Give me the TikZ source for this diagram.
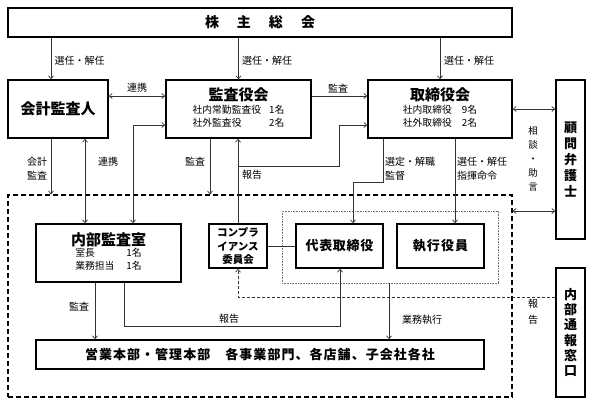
\documentclass[tikz,border=0pt]{standalone}
\usepackage{fontspec}
\setmainfont{Noto Sans CJK JP}
\usetikzlibrary{arrows.meta,calc}
\begin{document}
\begin{tikzpicture}[x=1pt,y=-1pt,
  box/.style={draw=black,line width=1.4pt,inner sep=0pt,align=center,fill=white},
  conn/.style={draw=black!80,line width=0.7pt},
  arr/.style={conn,-{Straight Barb[length=3pt,width=5pt]}},
  darr/.style={conn,{Straight Barb[length=3pt,width=5pt]}-{Straight Barb[length=3pt,width=5pt]}},
  lbl/.style={font=\fontsize{10}{12}\selectfont,inner sep=0pt}]
\useasboundingbox (0,0) rectangle (593,407);
% containers
\node[draw=black,line width=1.2pt,dash pattern=on 5pt off 3pt,inner sep=0pt,minimum width=504pt,minimum height=202pt] (outer) at (260,296) {};
\node[draw=black!55,densely dotted,line width=0.6pt,inner sep=0pt,minimum width=216pt,minimum height=72pt] (exec) at (390,247) {};
% boxes
\node[box,minimum width=504pt,minimum height=29pt,font=\bfseries\fontsize{14}{16}\selectfont] (sh) at (260,22.5) {株\hspace{18pt}主\hspace{18pt}総\hspace{18pt}会};
\node[box,minimum width=100pt,minimum height=58pt,font=\bfseries\fontsize{15}{17}\selectfont] (kai) at (58,109) {会計監査人};
\node[box,minimum width=145pt,minimum height=58pt] (kan) at (238.5,109) {{\bfseries\fontsize{15}{17}\selectfont 監査役会}\\[1pt]{\fontsize{9.8}{13}\selectfont\begin{tabular}{@{}l@{\hspace{8pt}}r@{}}社内常勤監査役&1名\\社外監査役&2名\end{tabular}}};
\node[box,minimum width=144pt,minimum height=58pt] (tor) at (440,109) {{\bfseries\fontsize{15}{17}\selectfont 取締役会}\\[1pt]{\fontsize{9.8}{13}\selectfont\begin{tabular}{@{}l@{\hspace{10pt}}r@{}}社内取締役&9名\\社外取締役&2名\end{tabular}}};
\node[box,minimum width=29pt,minimum height=159pt,font=\bfseries\fontsize{13}{16}\selectfont] (kom) at (570.5,159.5) {顧\\問\\弁\\護\\士};
\node[box,minimum width=29pt,minimum height=129pt,font=\bfseries\fontsize{13}{15.2}\selectfont] (tsu) at (570.5,332.5) {内\\部\\通\\報\\窓\\口};
\node[box,minimum width=145pt,minimum height=58pt] (nai) at (108.5,253) {{\bfseries\fontsize{15}{17}\selectfont 内部監査室}\\[0pt]{\fontsize{9.8}{12.5}\selectfont\begin{tabular}{@{}l@{\hspace{12pt}}r@{}}室長&1名\\業務担当&1名\end{tabular}}};
\node[box,minimum width=58pt,minimum height=44pt,font=\bfseries\fontsize{10.5}{13.5}\selectfont] (comp) at (238,246) {コンプラ\\イアンス\\委員会};
\node[box,minimum width=87pt,minimum height=44pt,font=\bfseries\fontsize{13}{15}\selectfont\addfontfeature{LetterSpace=5}] (dai) at (339.5,246) {代表取締役};
\node[box,minimum width=87pt,minimum height=44pt,font=\bfseries\fontsize{13}{15}\selectfont\addfontfeature{LetterSpace=8}] (shi) at (440.5,246) {執行役員};
\node[box,minimum width=448pt,minimum height=29pt,font=\bfseries\fontsize{13}{15}\selectfont\addfontfeature{LetterSpace=8}] (bot) at (260,354.5) {営業本部・管理本部　各事業部門、各店舗、子会社各社};
% connectors
\draw[arr] ([xshift=-7pt]kai.north |- sh.south) -- ([xshift=-7pt]kai.north);
\draw[arr] (kan.north |- sh.south) -- (kan.north);
\draw[arr] (tor.north |- sh.south) -- (tor.north);
\draw[darr] ([yshift=13pt]kai.east) -- ([yshift=13pt]kai.east -| kan.west);
\draw[arr] ([yshift=13pt]kan.east) -- ([yshift=13pt]kan.east -| tor.west);
\draw[arr] ([xshift=-7pt]kai.south) -- ([xshift=-7pt]kai.south |- outer.north);
\draw[darr] ([xshift=27pt]kai.south) -- ([xshift=27pt]kai.south |- nai.north);
\draw[darr] ([xshift=24.5pt]nai.north) |- ([yshift=-16pt]kan.west);
\draw[arr] ([xshift=-28.5pt]kan.south) -- ([xshift=-28.5pt]kan.south |- outer.north);
\draw[arr] (comp.north) -- (comp.north |- kan.south);
\coordinate (br) at ($(comp.north)+(0,-57)$);
\draw[arr] (br) -| ([xshift=-28pt,yshift=-16pt]tor.west) -- ([yshift=-16pt]tor.west);
\draw[arr] ([xshift=-57pt]tor.south) -- ++(0,44) -| ([xshift=13.5pt]dai.north);
\draw[arr] ([xshift=15pt]tor.south) -- ([xshift=15pt]tor.south |- shi.north);
\draw[darr] (tor.east) -- (tor.east -| kom.west);
\draw[darr] ([yshift=85pt]outer.east) -- ([yshift=85pt]outer.east -| kom.west);
\draw[conn] (comp.east) -- (dai.west);
\draw[arr,dashed,dash pattern=on 3pt off 2pt] ([yshift=35.5pt]tsu.west) -| (comp.south);
\draw[arr] ([xshift=-1pt]exec.south) -- ([xshift=-1pt]exec.south |- bot.north);
\draw[arr] ([xshift=-13.5pt]nai.south) -- ([xshift=-13.5pt]nai.south |- bot.north);
\draw[arr] ([xshift=15.5pt]nai.south) -- ++(0,44) -| ([xshift=0.5pt]dai.south);
% labels
\node[lbl] (l1) at (79.5,61) {選任・解任};
\node[lbl] (l2) at (267,61) {選任・解任};
\node[lbl] (l3) at (469,61) {選任・解任};
\node[lbl] (l4) at (137,88) {連携};
\node[lbl] (l5) at (338,89) {監査};
\node[lbl,align=center,font=\fontsize{10}{13.5}\selectfont] (l6) at (37,168.5) {会計\\監査};
\node[lbl] (l7) at (108,162) {連携};
\node[lbl] (l8) at (195,162) {監査};
\node[lbl] (l9) at (252,175) {報告};
\node[lbl,align=left,anchor=west,font=\fontsize{10}{13.5}\selectfont] (l10) at (385,168.5) {選定・解職\\監督};
\node[lbl,align=left,anchor=west,font=\fontsize{10}{13.5}\selectfont] (l11) at (457,168.5) {選任・解任\\指揮命令};
\node[lbl,align=center,font=\fontsize{9.5}{14}\selectfont] (l12) at (533,159) {相\\談\\・\\助\\言};
\node[lbl] (l13) at (422,320) {業務執行};
\node[lbl,align=center,font=\fontsize{10}{16}\selectfont] (l14) at (533,311.5) {報\\告};
\node[lbl] (l15) at (79,307) {監査};
\node[lbl] (l16) at (229,319) {報告};
\end{tikzpicture}
\end{document}
